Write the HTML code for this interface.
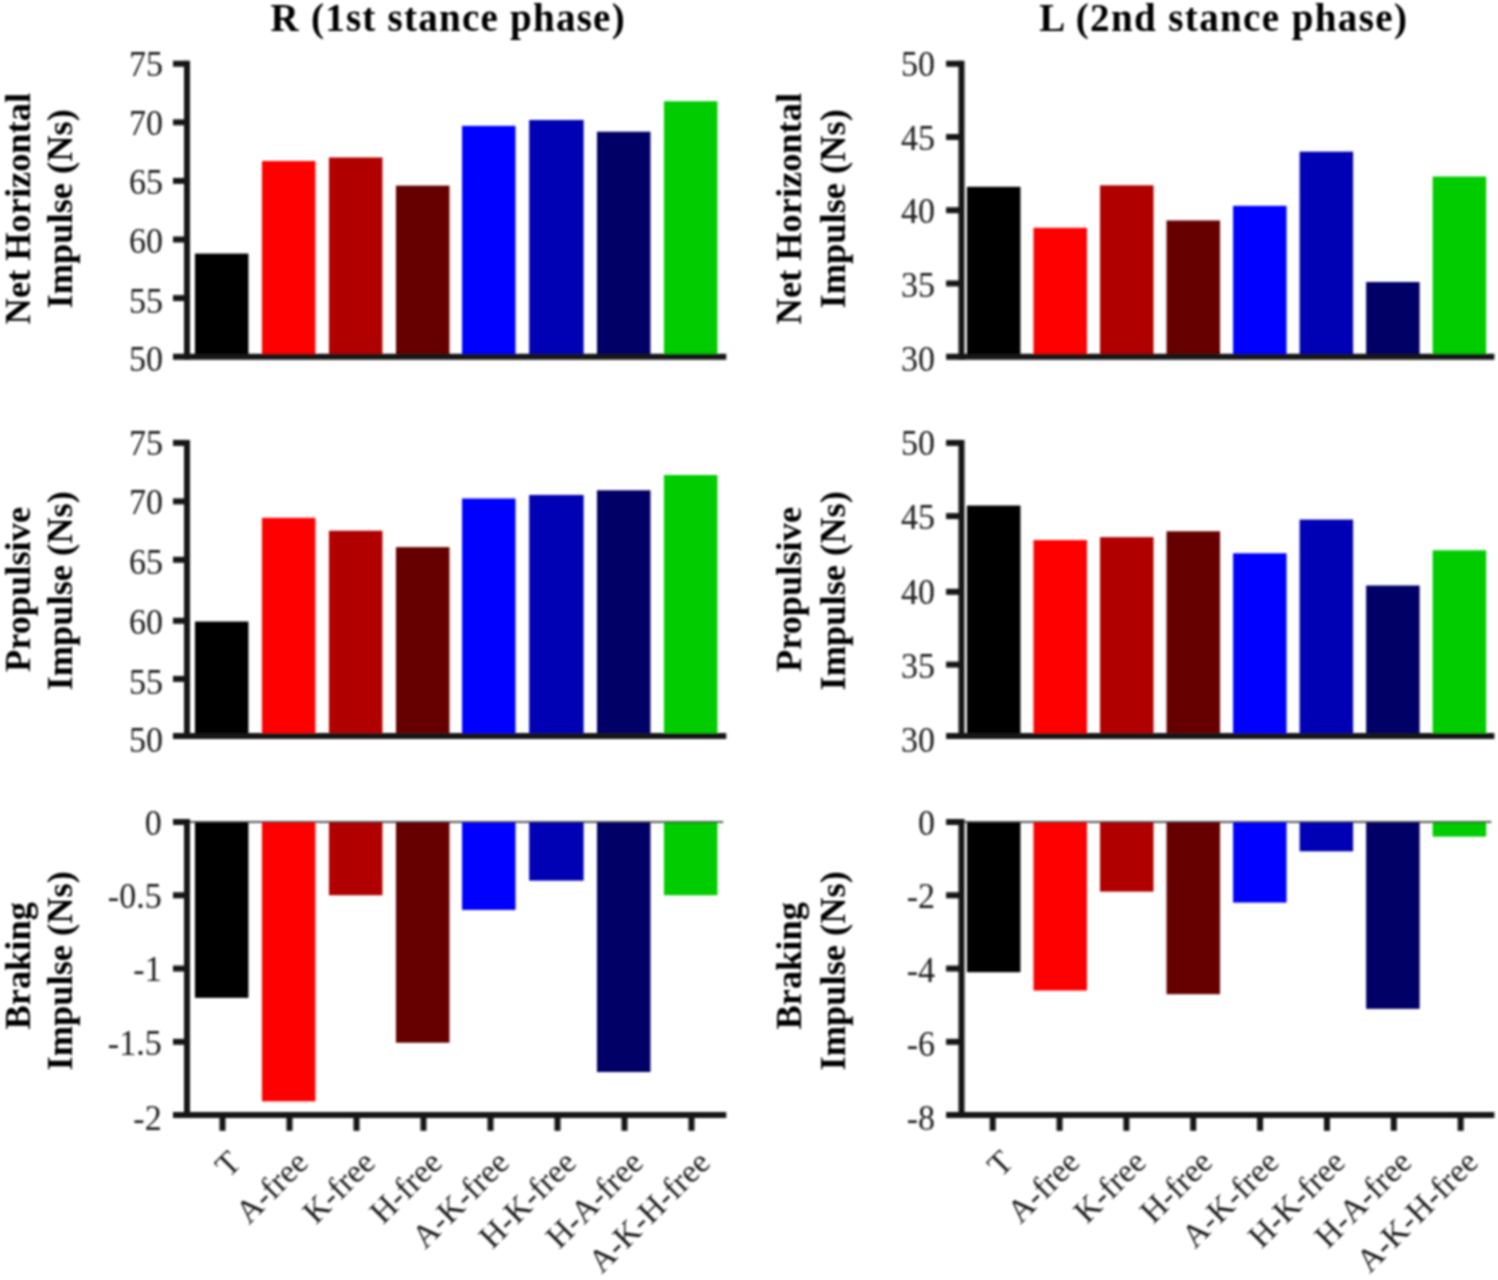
<!DOCTYPE html>
<html lang="en"><head><meta charset="utf-8"><title>Impulse bar charts</title>
<style>html,body{margin:0;padding:0;background:#fff}body{width:1498px;height:1280px;overflow:hidden}svg{display:block}text{font-family:"Liberation Serif",serif}.tk{font-size:34px;fill:#1c1c1c}.yl{font-size:36.4px;font-weight:bold;fill:#000;text-anchor:middle}.tt{font-size:39px;font-weight:bold;fill:#000;text-anchor:middle;letter-spacing:1.39px}.ax{stroke:#141414;stroke-width:6;fill:none}</style></head><body>
<svg width="1498" height="1280" viewBox="0 0 1498 1280">
<defs><filter id="soft" x="0" y="0" width="1498" height="1280" filterUnits="userSpaceOnUse"><feGaussianBlur stdDeviation="0.8"/></filter></defs>
<rect width="1498" height="1280" fill="#ffffff"/>
<g filter="url(#soft)">
<text class="tt" style="letter-spacing:1.25px" x="448.2" y="30.9">R (1st stance phase)</text>
<text class="tt" x="1223.8" y="30.9">L (2nd stance phase)</text>
<g>
<rect x="194.95" y="253.58" width="53.50" height="103.12" fill="#000000"/>
<rect x="261.95" y="161.01" width="53.50" height="195.69" fill="#ff0000"/>
<rect x="328.95" y="157.49" width="53.50" height="199.21" fill="#b00000"/>
<rect x="395.95" y="185.62" width="53.50" height="171.08" fill="#660000"/>
<rect x="462.05" y="125.86" width="53.50" height="230.84" fill="#0000ff"/>
<rect x="529.15" y="120.00" width="54.50" height="236.70" fill="#0000b4"/>
<rect x="596.95" y="131.71" width="53.50" height="224.99" fill="#000066"/>
<rect x="663.95" y="101.25" width="53.50" height="255.45" fill="#00cc00"/>
<path class="ax" d="M187.00 60.75V359.70"/>
<path class="ax" d="M173.00 356.70H726.30"/>
<text class="tk" text-anchor="end" transform="translate(163.0 371.4) scale(1 1.050)">50</text>
<path class="ax" d="M173.00 298.11H187.00"/>
<text class="tk" text-anchor="end" transform="translate(163.0 312.9) scale(1 1.050)">55</text>
<path class="ax" d="M173.00 239.52H187.00"/>
<text class="tk" text-anchor="end" transform="translate(163.0 252.5) scale(1 1.050)">60</text>
<path class="ax" d="M173.00 180.93H187.00"/>
<text class="tk" text-anchor="end" transform="translate(163.0 193.6) scale(1 1.050)">65</text>
<path class="ax" d="M173.00 122.34H187.00"/>
<text class="tk" text-anchor="end" transform="translate(163.0 134.7) scale(1 1.050)">70</text>
<path class="ax" d="M173.00 63.75H187.00"/>
<text class="tk" text-anchor="end" transform="translate(163.0 76.0) scale(1 1.050)">75</text>
<text class="yl" transform="translate(29.8 208.7) rotate(-90)">Net Horizontal</text>
<text class="yl" transform="translate(72.4 208.8) rotate(-90)">Impulse (Ns)</text>
</g>
<g>
<rect x="194.95" y="621.54" width="53.50" height="114.86" fill="#000000"/>
<rect x="261.95" y="517.82" width="53.50" height="218.58" fill="#ff0000"/>
<rect x="328.95" y="530.71" width="53.50" height="205.69" fill="#b00000"/>
<rect x="395.95" y="547.12" width="53.50" height="189.28" fill="#660000"/>
<rect x="462.05" y="498.48" width="53.50" height="237.92" fill="#0000ff"/>
<rect x="529.15" y="494.97" width="54.50" height="241.43" fill="#0000b4"/>
<rect x="596.95" y="490.28" width="53.50" height="246.12" fill="#000066"/>
<rect x="663.95" y="475.04" width="53.50" height="261.36" fill="#00cc00"/>
<path class="ax" d="M187.00 439.90V739.10"/>
<path class="ax" d="M173.00 736.10H726.30"/>
<text class="tk" text-anchor="end" transform="translate(163.0 751.8) scale(1 1.050)">50</text>
<path class="ax" d="M173.00 678.90H187.00"/>
<text class="tk" text-anchor="end" transform="translate(163.0 693.6) scale(1 1.050)">55</text>
<path class="ax" d="M173.00 620.80H187.00"/>
<text class="tk" text-anchor="end" transform="translate(163.0 634.0) scale(1 1.050)">60</text>
<path class="ax" d="M173.00 559.80H187.00"/>
<text class="tk" text-anchor="end" transform="translate(163.0 573.5) scale(1 1.050)">65</text>
<path class="ax" d="M173.00 501.40H187.00"/>
<text class="tk" text-anchor="end" transform="translate(163.0 513.6) scale(1 1.050)">70</text>
<path class="ax" d="M173.00 442.90H187.00"/>
<text class="tk" text-anchor="end" transform="translate(163.0 455.3) scale(1 1.050)">75</text>
<text class="yl" transform="translate(29.8 589.5) rotate(-90)">Propulsive</text>
<text class="yl" transform="translate(72.4 590.8) rotate(-90)">Impulse (Ns)</text>
</g>
<g>
<rect x="194.95" y="822.00" width="53.50" height="175.86" fill="#000000"/>
<rect x="261.95" y="822.00" width="53.50" height="279.32" fill="#ff0000"/>
<rect x="328.95" y="822.00" width="53.50" height="73.27" fill="#b00000"/>
<rect x="395.95" y="822.00" width="53.50" height="220.70" fill="#660000"/>
<rect x="462.05" y="822.00" width="53.50" height="87.93" fill="#0000ff"/>
<rect x="529.15" y="822.00" width="54.50" height="58.62" fill="#0000b4"/>
<rect x="596.95" y="822.00" width="53.50" height="250.01" fill="#000066"/>
<rect x="663.95" y="822.00" width="53.50" height="73.27" fill="#00cc00"/>
<line x1="187.00" y1="822.00" x2="723.30" y2="822.00" stroke="#262626" stroke-width="1.3"/>
<path class="ax" d="M187.00 819.00V1118.10"/>
<path class="ax" d="M173.00 1115.10H726.30"/>
<text class="tk" text-anchor="end" transform="translate(161.7 1129.8) scale(1 1.050)">-2</text>
<path class="ax" d="M173.00 1041.82H187.00"/>
<text class="tk" text-anchor="end" transform="translate(161.7 1055.3) scale(1 1.050)">-1.5</text>
<path class="ax" d="M173.00 968.55H187.00"/>
<text class="tk" text-anchor="end" transform="translate(161.7 981.0) scale(1 1.050)">-1</text>
<path class="ax" d="M173.00 895.27H187.00"/>
<text class="tk" text-anchor="end" transform="translate(161.7 907.7) scale(1 1.050)">-0.5</text>
<path class="ax" d="M173.00 822.00H187.00"/>
<text class="tk" text-anchor="end" transform="translate(161.7 834.7) scale(1 1.050)">0</text>
<text class="yl" transform="translate(29.8 965.8) rotate(-90)">Braking</text>
<text class="yl" transform="translate(72.4 970.8) rotate(-90)">Impulse (Ns)</text>
<path class="ax" d="M222.50 1115.10V1130.80"/>
<text class="tk" style="font-size:33px" text-anchor="end" transform="translate(222.0 1143.6) rotate(-45)" dy="29.4">T</text>
<path class="ax" d="M289.50 1115.10V1130.80"/>
<text class="tk" style="font-size:33px" text-anchor="end" transform="translate(289.0 1143.6) rotate(-45)" dy="29.4">A-free</text>
<path class="ax" d="M356.50 1115.10V1130.80"/>
<text class="tk" style="font-size:33px" text-anchor="end" transform="translate(356.0 1143.6) rotate(-45)" dy="29.4">K-free</text>
<path class="ax" d="M423.50 1115.10V1130.80"/>
<text class="tk" style="font-size:33px" text-anchor="end" transform="translate(423.0 1143.6) rotate(-45)" dy="29.4">H-free</text>
<path class="ax" d="M490.50 1115.10V1130.80"/>
<text class="tk" style="font-size:33px" text-anchor="end" transform="translate(490.0 1143.6) rotate(-45)" dy="29.4">A-K-free</text>
<path class="ax" d="M557.50 1115.10V1130.80"/>
<text class="tk" style="font-size:33px" text-anchor="end" transform="translate(557.0 1143.6) rotate(-45)" dy="29.4">H-K-free</text>
<path class="ax" d="M624.50 1115.10V1130.80"/>
<text class="tk" style="font-size:33px" text-anchor="end" transform="translate(624.0 1143.6) rotate(-45)" dy="29.4">H-A-free</text>
<path class="ax" d="M691.50 1115.10V1130.80"/>
<text class="tk" style="font-size:33px" text-anchor="end" transform="translate(691.0 1143.6) rotate(-45)" dy="29.4">A-K-H-free</text>
</g>
<g>
<rect x="966.95" y="186.79" width="53.50" height="169.91" fill="#000000"/>
<rect x="1033.48" y="227.80" width="53.50" height="128.90" fill="#ff0000"/>
<rect x="1100.01" y="185.32" width="53.50" height="171.38" fill="#b00000"/>
<rect x="1166.54" y="220.48" width="53.50" height="136.22" fill="#660000"/>
<rect x="1233.07" y="205.83" width="53.50" height="150.87" fill="#0000ff"/>
<rect x="1299.60" y="151.64" width="53.50" height="205.06" fill="#0000b4"/>
<rect x="1366.13" y="282.00" width="53.50" height="74.70" fill="#000066"/>
<rect x="1432.66" y="176.54" width="53.50" height="180.16" fill="#00cc00"/>
<path class="ax" d="M961.50 60.75V359.70"/>
<path class="ax" d="M946.10 356.70H1494.40"/>
<text class="tk" text-anchor="end" transform="translate(935.0 371.4) scale(1 1.050)">30</text>
<path class="ax" d="M946.10 283.46H961.50"/>
<text class="tk" text-anchor="end" transform="translate(935.0 296.9) scale(1 1.050)">35</text>
<path class="ax" d="M946.10 210.22H961.50"/>
<text class="tk" text-anchor="end" transform="translate(935.0 223.2) scale(1 1.050)">40</text>
<path class="ax" d="M946.10 136.99H961.50"/>
<text class="tk" text-anchor="end" transform="translate(935.0 149.9) scale(1 1.050)">45</text>
<path class="ax" d="M946.10 63.75H961.50"/>
<text class="tk" text-anchor="end" transform="translate(935.0 76.0) scale(1 1.050)">50</text>
<text class="yl" transform="translate(801.3 208.7) rotate(-90)">Net Horizontal</text>
<text class="yl" transform="translate(845.3 208.8) rotate(-90)">Impulse (Ns)</text>
</g>
<g>
<rect x="966.95" y="505.52" width="53.50" height="230.88" fill="#000000"/>
<rect x="1033.48" y="540.09" width="53.50" height="196.31" fill="#ff0000"/>
<rect x="1100.01" y="537.16" width="53.50" height="199.24" fill="#b00000"/>
<rect x="1166.54" y="531.30" width="53.50" height="205.10" fill="#660000"/>
<rect x="1233.07" y="553.27" width="53.50" height="183.12" fill="#0000ff"/>
<rect x="1299.60" y="519.58" width="53.50" height="216.82" fill="#0000b4"/>
<rect x="1366.13" y="585.50" width="53.50" height="150.89" fill="#000066"/>
<rect x="1432.66" y="550.34" width="53.50" height="186.06" fill="#00cc00"/>
<path class="ax" d="M961.50 439.90V739.10"/>
<path class="ax" d="M946.10 736.10H1494.40"/>
<text class="tk" text-anchor="end" transform="translate(935.0 751.8) scale(1 1.050)">30</text>
<path class="ax" d="M946.10 664.60H961.50"/>
<text class="tk" text-anchor="end" transform="translate(935.0 677.6) scale(1 1.050)">35</text>
<path class="ax" d="M946.10 591.80H961.50"/>
<text class="tk" text-anchor="end" transform="translate(935.0 604.0) scale(1 1.050)">40</text>
<path class="ax" d="M946.10 516.10H961.50"/>
<text class="tk" text-anchor="end" transform="translate(935.0 529.3) scale(1 1.050)">45</text>
<path class="ax" d="M946.10 442.90H961.50"/>
<text class="tk" text-anchor="end" transform="translate(935.0 455.3) scale(1 1.050)">50</text>
<text class="yl" transform="translate(801.3 589.5) rotate(-90)">Propulsive</text>
<text class="yl" transform="translate(845.3 590.8) rotate(-90)">Impulse (Ns)</text>
</g>
<g>
<rect x="966.95" y="822.00" width="53.50" height="150.21" fill="#000000"/>
<rect x="1033.48" y="822.00" width="53.50" height="168.53" fill="#ff0000"/>
<rect x="1100.01" y="822.00" width="53.50" height="69.61" fill="#b00000"/>
<rect x="1166.54" y="822.00" width="53.50" height="172.20" fill="#660000"/>
<rect x="1233.07" y="822.00" width="53.50" height="80.60" fill="#0000ff"/>
<rect x="1299.60" y="822.00" width="53.50" height="29.31" fill="#0000b4"/>
<rect x="1366.13" y="822.00" width="53.50" height="186.85" fill="#000066"/>
<rect x="1432.66" y="822.00" width="53.50" height="14.65" fill="#00cc00"/>
<line x1="961.50" y1="822.00" x2="1491.40" y2="822.00" stroke="#262626" stroke-width="1.3"/>
<path class="ax" d="M961.50 819.00V1118.10"/>
<path class="ax" d="M946.10 1115.10H1494.40"/>
<text class="tk" text-anchor="end" transform="translate(935.0 1129.8) scale(1 1.050)">-8</text>
<path class="ax" d="M946.10 1041.82H961.50"/>
<text class="tk" text-anchor="end" transform="translate(935.0 1055.8) scale(1 1.050)">-6</text>
<path class="ax" d="M946.10 968.55H961.50"/>
<text class="tk" text-anchor="end" transform="translate(935.0 981.8) scale(1 1.050)">-4</text>
<path class="ax" d="M946.10 895.27H961.50"/>
<text class="tk" text-anchor="end" transform="translate(935.0 907.7) scale(1 1.050)">-2</text>
<path class="ax" d="M946.10 822.00H961.50"/>
<text class="tk" text-anchor="end" transform="translate(935.0 834.7) scale(1 1.050)">0</text>
<text class="yl" transform="translate(801.3 965.8) rotate(-90)">Braking</text>
<text class="yl" transform="translate(845.3 970.8) rotate(-90)">Impulse (Ns)</text>
<path class="ax" d="M992.70 1115.10V1130.80"/>
<text class="tk" style="font-size:33px" text-anchor="end" transform="translate(994.2 1143.1) rotate(-45)" dy="29.4">T</text>
<path class="ax" d="M1059.55 1115.10V1130.80"/>
<text class="tk" style="font-size:33px" text-anchor="end" transform="translate(1060.6 1143.1) rotate(-45)" dy="29.4">A-free</text>
<path class="ax" d="M1126.40 1115.10V1130.80"/>
<text class="tk" style="font-size:33px" text-anchor="end" transform="translate(1127.0 1143.1) rotate(-45)" dy="29.4">K-free</text>
<path class="ax" d="M1193.25 1115.10V1130.80"/>
<text class="tk" style="font-size:33px" text-anchor="end" transform="translate(1193.4 1143.1) rotate(-45)" dy="29.4">H-free</text>
<path class="ax" d="M1260.10 1115.10V1130.80"/>
<text class="tk" style="font-size:33px" text-anchor="end" transform="translate(1259.8 1143.1) rotate(-45)" dy="29.4">A-K-free</text>
<path class="ax" d="M1326.95 1115.10V1130.80"/>
<text class="tk" style="font-size:33px" text-anchor="end" transform="translate(1326.2 1143.1) rotate(-45)" dy="29.4">H-K-free</text>
<path class="ax" d="M1393.80 1115.10V1130.80"/>
<text class="tk" style="font-size:33px" text-anchor="end" transform="translate(1392.6 1143.1) rotate(-45)" dy="29.4">H-A-free</text>
<path class="ax" d="M1460.65 1115.10V1130.80"/>
<text class="tk" style="font-size:33px" text-anchor="end" transform="translate(1459.0 1143.1) rotate(-45)" dy="29.4">A-K-H-free</text>
</g>
</g></svg></body></html>
